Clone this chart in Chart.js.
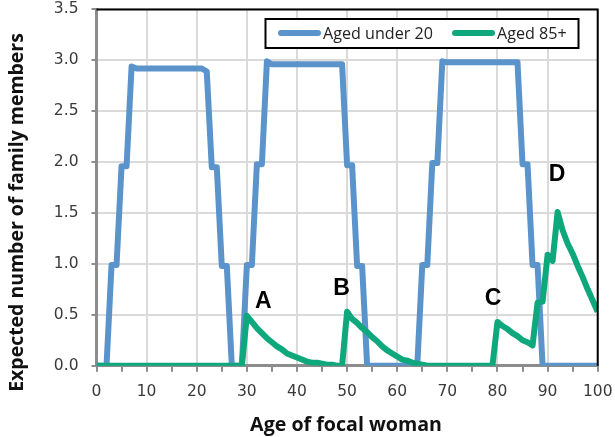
<!DOCTYPE html>
<html>
<head>
<meta charset="utf-8">
<script src="https://cdn.jsdelivr.net/npm/chart.js@4.4.1/dist/chart.umd.min.js"></script>
<style>
  html, body { margin: 0; padding: 0; background: #fff; }
  #wrap { width: 615px; height: 437px; }
</style>
</head>
<body>
<div id="wrap"><canvas id="chart" width="615" height="437"></canvas></div>
<script>
// ages 0..100 of the focal woman (x categories)
const ages = Array.from({ length: 101 }, (_, i) => i);

// expected number of family members aged under 20
const under20 = [
  0, 0, 0,
  0.99, 0.99,
  1.96, 1.96,
  2.94, 2.92, 2.92, 2.92, 2.92, 2.92, 2.92, 2.92, 2.92, 2.92, 2.92, 2.92, 2.92, 2.92, 2.92, 2.89,
  1.95, 1.95,
  0.98, 0.98,
  0, 0, 0,
  0.99, 0.99,
  1.98, 1.98,
  2.99, 2.96, 2.96, 2.96, 2.96, 2.96, 2.96, 2.96, 2.96, 2.96, 2.96, 2.96, 2.96, 2.96, 2.96, 2.96,
  1.97, 1.97,
  0.98, 0.98,
  0, 0, 0, 0, 0, 0, 0, 0, 0, 0, 0,
  0.99, 0.99,
  1.99, 1.99,
  2.99, 2.98, 2.98, 2.98, 2.98, 2.98, 2.98, 2.98, 2.98, 2.98, 2.98, 2.98, 2.98, 2.98, 2.98, 2.98,
  1.98, 1.98,
  0.99, 0.99,
  0, 0, 0, 0, 0, 0, 0, 0, 0, 0, 0, 0
];

// expected number of family members aged 85+
const aged85 = [
  0, 0, 0, 0, 0, 0, 0, 0, 0, 0, 0, 0, 0, 0, 0, 0, 0, 0, 0, 0, 0, 0, 0, 0, 0, 0, 0, 0, 0, 0,
  0.49, 0.43, 0.37, 0.32, 0.27, 0.23, 0.19, 0.16, 0.12, 0.10,
  0.08, 0.06, 0.04, 0.03, 0.03, 0.02, 0.01, 0.01, 0, 0,
  0.53, 0.46, 0.42, 0.37, 0.33, 0.28, 0.24, 0.19, 0.15, 0.12,
  0.09, 0.06, 0.05, 0.03, 0.02, 0.01,
  0, 0, 0, 0, 0, 0, 0, 0, 0, 0, 0, 0, 0, 0,
  0.43, 0.39, 0.36, 0.32, 0.29, 0.25, 0.23, 0.20, 0.62, 0.63,
  1.09, 1.03, 1.51, 1.33, 1.20, 1.10, 0.98, 0.87, 0.75, 0.64, 0.53
];

const seriesNames = ['Aged under 20', 'Aged 85+'];
const xTitle = 'Age of focal woman';
const yTitle = 'Expected number of family members';

// letters marking the peaks, anchored in data units
const notes = [
  { text: 'A', age: 33.3, value: 0.63 },
  { text: 'B', age: 48.9, value: 0.76 },
  { text: 'C', age: 79.1, value: 0.66 },
  { text: 'D', age: 91.9, value: 1.88 }
];

const BLUE = '#5b94cb';
const GREEN = '#0ea87c';
const TICK_FONT = '"DejaVu Sans", sans-serif';
const TITLE_FONT = '"Open Sans", sans-serif';

// pick a font size so the text spans the wanted width
function fitFont(ctx, text, weight, family, width) {
  ctx.font = weight + ' 20px ' + family;
  const size = 20 * width / ctx.measureText(text).width;
  return weight + ' ' + size.toFixed(2) + 'px ' + family;
}

const decor = {
  id: 'decor',
  afterDraw(chart) {
    const { ctx, chartArea: a } = chart;
    const xs = chart.scales.x, ys = chart.scales.y;
    ctx.save();

    // black frame on top and right of plot area
    ctx.strokeStyle = '#000';
    ctx.lineWidth = 2;
    ctx.beginPath();
    ctx.moveTo(a.left, a.top);
    ctx.lineTo(a.right, a.top);
    ctx.lineTo(a.right, a.bottom);
    ctx.stroke();

    // A, B, C, D
    ctx.fillStyle = '#000';
    ctx.font = 'bold 23px "Liberation Sans", Arial, sans-serif';
    ctx.textAlign = 'center';
    ctx.textBaseline = 'middle';
    notes.forEach(n => ctx.fillText(n.text, xs.getPixelForValue(n.age), ys.getPixelForValue(n.value)));

    // legend box
    ctx.fillStyle = '#fff';
    ctx.fillRect(265.5, 19, 313, 29);
    ctx.strokeStyle = '#000';
    ctx.lineWidth = 2;
    ctx.strokeRect(265.5, 19, 313, 29);
    ctx.lineCap = 'round';
    ctx.lineWidth = 6;
    ctx.strokeStyle = BLUE;
    ctx.beginPath(); ctx.moveTo(281, 33); ctx.lineTo(318, 33); ctx.stroke();
    ctx.strokeStyle = GREEN;
    ctx.beginPath(); ctx.moveTo(455, 33); ctx.lineTo(492, 33); ctx.stroke();
    ctx.fillStyle = '#222';
    ctx.font = fitFont(ctx, seriesNames[0], 'normal', TITLE_FONT, 110);
    ctx.textAlign = 'left';
    ctx.textBaseline = 'alphabetic';
    ctx.fillText(seriesNames[0], 323, 38.5);
    ctx.fillText(seriesNames[1], 497, 38.5);

    // axis titles
    ctx.fillStyle = '#111';
    ctx.textAlign = 'center';
    ctx.font = fitFont(ctx, xTitle, 'bold', TITLE_FONT, 192);
    ctx.fillText(xTitle, 346, 430.7);
    ctx.font = fitFont(ctx, yTitle, 'bold', TITLE_FONT, 359);
    ctx.translate(22.7, 212.5);
    ctx.rotate(-Math.PI / 2);
    ctx.fillText(yTitle, 0, 0);
    ctx.restore();
  }
};

new Chart(document.getElementById('chart'), {
  type: 'line',
  data: {
    datasets: [
      {
        label: seriesNames[0],
        data: ages.map((a, i) => ({ x: a, y: under20[i] })),
        borderColor: BLUE,
        borderWidth: 6,
        borderJoinStyle: 'round',
        pointRadius: 0,
        tension: 0,
        order: 2
      },
      {
        label: seriesNames[1],
        data: ages.map((a, i) => ({ x: a, y: aged85[i] })),
        borderColor: GREEN,
        borderWidth: 6,
        borderJoinStyle: 'round',
        pointRadius: 0,
        tension: 0,
        order: 1
      }
    ]
  },
  options: {
    responsive: false,
    animation: false,
    devicePixelRatio: 1,
    layout: { padding: { left: 0, right: 17.3, top: 9.4, bottom: 0 } },
    plugins: { legend: { display: false }, tooltip: { enabled: false } },
    scales: {
      x: {
        type: 'linear',
        min: 0,
        max: 100,
        afterFit: s => { s.height = 71.3; s.paddingLeft = 0; s.paddingRight = 0; },
        ticks: {
          stepSize: 5,
          autoSkip: false,
          maxRotation: 0,
          padding: 11,
          color: '#3a3a3a',
          font: { family: TICK_FONT, size: 15.5 },
          callback: v => (v % 10 === 0 ? v : '')
        },
        grid: {
          color: c => (c.tick && c.tick.value % 10 === 0 ? '#dadada' : 'rgba(0,0,0,0)'),
          lineWidth: 2,
          tickLength: 6,
          tickColor: '#8c8c8c',
          tickWidth: 2
        },
        border: { color: '#8c8c8c', width: 3 }
      },
      y: {
        min: 0,
        max: 3.5,
        afterFit: s => { s.width = 96.5; s.paddingTop = 0; s.paddingBottom = 0; },
        ticks: {
          stepSize: 0.5,
          padding: 13,
          color: '#3a3a3a',
          font: { family: TICK_FONT, size: 15.5 },
          callback: v => v.toFixed(1)
        },
        grid: {
          color: '#dadada',
          lineWidth: 2,
          tickLength: 5,
          tickColor: '#8c8c8c',
          tickWidth: 2
        },
        border: { color: '#8c8c8c', width: 3 }
      }
    }
  },
  plugins: [decor]
});
</script>
</body>
</html>
